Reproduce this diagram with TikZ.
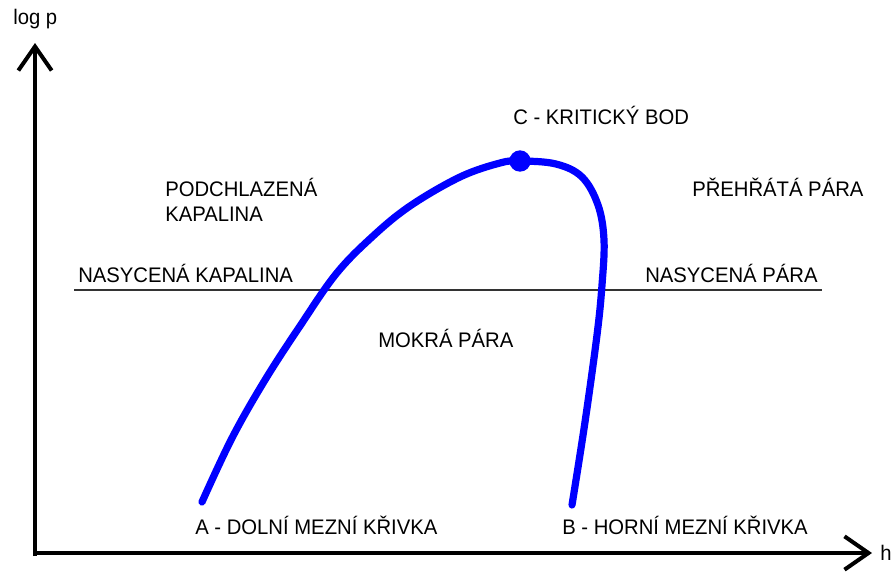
\documentclass[tikz,border=0pt]{standalone}
\usepackage{fontspec}
\setmainfont{Liberation Sans}
\usetikzlibrary{arrows.meta}
\definecolor{curveblue}{RGB}{0,0,255}
\begin{document}
\begin{tikzpicture}[x=0.75pt,y=-0.75pt,
  lbl/.style={inner sep=0pt,font=\fontsize{15.2}{18.5}\selectfont,text=black,yscale=1.04},
  axis/.style={line width=3pt,-{Straight Barb[length=18pt,width=25pt,line width=3pt]}},
  curve/.style={line width=5.4pt,curveblue,line cap=round},
  level/.style={line width=1.1pt,black!80}]
\useasboundingbox (0,0) rectangle (892,572);
\coordinate (O) at (35,553);
\coordinate (Ytop) at (35,43);
\coordinate (Xend) at (872,553);
\draw[axis] (35,556) -- (Ytop);
\draw[axis] (33,553) -- (Xend);
\node[lbl,anchor=west] (logp) at (13,19) {log p};
\node[lbl,anchor=west] (hlab) at (880,553) {h};
\coordinate (L1) at (74,290);
\coordinate (L2) at (822,290);
\draw[level] (L1) -- (L2);
\draw[curve] plot[smooth,tension=0.6] coordinates {(202,502) (232,438) (265,380) (300,326) (336,274) (372,237) (410,206) (460,177) (500,163) (520,161) (556,164) (582,177) (598,205) (604,240) (602,285) (597,335) (585,422) (572,505)};
\node[circle,fill=curveblue,minimum size=16pt,inner sep=0pt] (C) at (520,161) {};
\node[lbl,anchor=west] (ctext) at (513,115) {C - KRITICKÝ BOD};
\node[lbl,anchor=west,align=left] (podch) at (165,200) {PODCHLAZENÁ\\KAPALINA};
\node[lbl,anchor=west] (preh) at (692,187) {PŘEHŘÁTÁ PÁRA};
\node[lbl,anchor=west] (naskap) at (78,273) {NASYCENÁ KAPALINA};
\node[lbl,anchor=west] (naspar) at (645,273) {NASYCENÁ PÁRA};
\node[lbl,anchor=west] (mokra) at (378,338) {MOKRÁ PÁRA};
\node[lbl,anchor=west] (adol) at (195,525) {A - DOLNÍ MEZNÍ KŘIVKA};
\node[lbl,anchor=west] (bhor) at (562,525) {B - HORNÍ MEZNÍ KŘIVKA};
\end{tikzpicture}
\end{document}
